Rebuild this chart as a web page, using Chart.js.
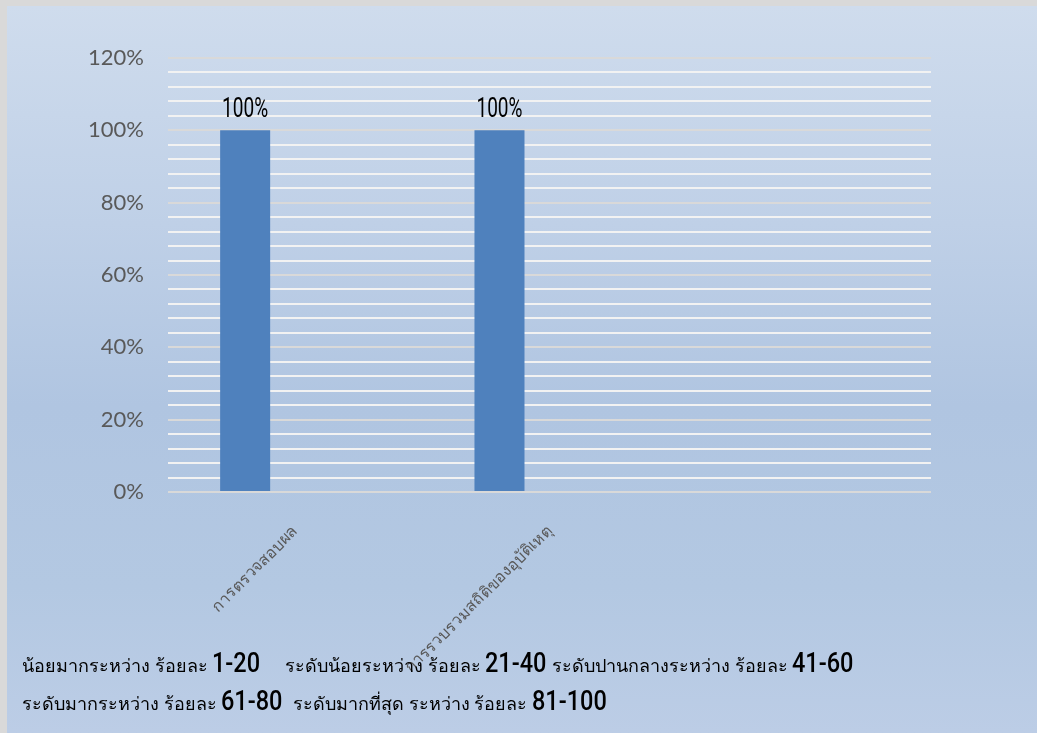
<!DOCTYPE html>
<html>
<head>
<meta charset="utf-8">
<script src="https://cdn.jsdelivr.net/npm/chart.js@4.4.0/dist/chart.umd.min.js"></script>
<style>
  html, body { margin: 0; padding: 0; }
  body { width: 1037px; height: 733px; background: #d9d9d9; overflow: hidden; }
  #frame {
    position: absolute; left: 7px; top: 6px; width: 1030px; height: 727px;
    background: linear-gradient(to bottom, #cfdced 0%, #bfd0e7 30%, #b0c5e1 55%, #b3c8e2 80%, #bccde6 100%);
  }
  #chart { position: absolute; left: 0; top: 0; }
  .note {
    position: absolute; color: #000; white-space: nowrap;
    font-family: "Noto Sans", "DejaVu Sans", sans-serif; font-size: 18px;
  }
  .note b {
    display: inline-block; transform: scaleX(0.84); transform-origin: left bottom;
    font-family: Roboto, sans-serif; font-weight: 500; font-size: 28px;
  }
</style>
</head>
<body>
<div id="frame">
  <canvas id="chart" width="1030" height="727"></canvas>
  <div id="notes"></div>
</div>
<script>
const categories = ["การตรวจสอบผล", "การรวบรวมสถิติของอุบัติเหตุ", ""];
const series1 = [100, 100, null];
const series2 = [null, null, null];
const series3 = [null, null, null];
const yMax = 120;
const yStep = 4;
const yLabelStep = 20;

const noteLine1 = [
  ["น้อยมากระหว่าง ร้อยละ ", "1-20"],
  ["ระดับน้อยระหว่าง ร้อยละ ", "21-40"],
  ["ระดับปานกลางระหว่าง ร้อยละ ", "41-60"]
];
const noteLine2 = [
  ["ระดับมากระหว่าง ร้อยละ ", "61-80"],
  ["ระดับมากที่สุด ระหว่าง ร้อยละ ", "81-100"]
];

// where each note starts (left, top) inside the frame
const noteSpots = [
  [[15, 640], [278, 640], [545, 640]],
  [[15, 678], [286, 678]]
];

const notes = document.getElementById("notes");
[noteLine1, noteLine2].forEach((line, li) => {
  line.forEach((part, pi) => {
    const d = document.createElement("div");
    d.className = "note";
    d.style.left = noteSpots[li][pi][0] + "px";
    d.style.top = noteSpots[li][pi][1] + "px";
    d.innerHTML = part[0] + "<b>" + part[1] + "</b>";
    notes.appendChild(d);
  });
});

// labels above the bars
const valueLabels = {
  id: "valueLabels",
  afterDatasetsDraw(chart) {
    const ctx = chart.ctx;
    const meta = chart.getDatasetMeta(0);
    meta.data.forEach((bar, i) => {
      const v = series1[i];
      if (v == null) return;
      ctx.save();
      ctx.translate(bar.x, bar.y - 13);
      ctx.scale(0.68, 1);
      ctx.font = "28px Roboto, sans-serif";
      ctx.fillStyle = "#000";
      ctx.textAlign = "center";
      ctx.textBaseline = "alphabetic";
      ctx.fillText(v + "%", 0, 0);
      ctx.restore();
    });
  }
};

new Chart(document.getElementById("chart"), {
  type: "bar",
  data: {
    labels: categories,
    datasets: [
      { label: "Series 1", data: series1, backgroundColor: "#4f81bd" },
      { label: "Series 2", data: series2, backgroundColor: "#c0504d" },
      { label: "Series 3", data: series3, backgroundColor: "#9bbb59" }
    ]
  },
  options: {
    responsive: false,
    animation: false,
    layout: { padding: { left: 0, right: 106, top: 52, bottom: 0 } },
    datasets: { bar: { barPercentage: 1, categoryPercentage: 0.59 } },
    plugins: {
      legend: { display: false },
      tooltip: { enabled: false }
    },
    scales: {
      x: {
        afterFit(scale) { scale.height = 727 - 486; },
        grid: { display: false },
        border: { display: false },
        ticks: {
          maxRotation: 45,
          minRotation: 45,
          color: "#595959",
          font: { family: '"Noto Sans", sans-serif', size: 16 },
          padding: 22
        }
      },
      y: {
        min: 0,
        max: yMax,
        afterFit(scale) { scale.width = 161; },
        border: { display: false },
        grid: {
          drawTicks: false,
          lineWidth: 2,
          color: ctx => (ctx.tick && ctx.tick.value % yLabelStep === 0) ? "#d9d9d9" : "#f2f2f2"
        },
        ticks: {
          stepSize: yStep,
          autoSkip: false,
          padding: 24,
          color: "#595959",
          font: { family: 'Lato, "Open Sans", sans-serif', size: 22 },
          callback: v => (v % yLabelStep === 0 ? v + "%" : "")
        }
      }
    }
  },
  plugins: [valueLabels]
});
</script>
</body>
</html>
